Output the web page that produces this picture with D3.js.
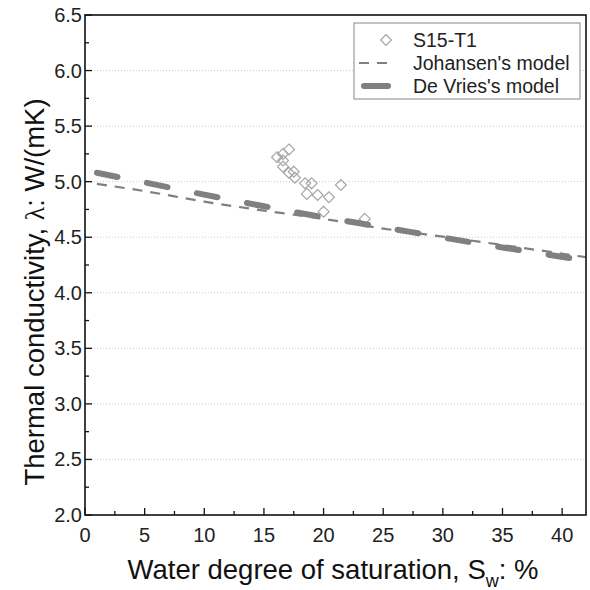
<!DOCTYPE html>
<html>
<head>
<meta charset="utf-8">
<script src="https://cdn.jsdelivr.net/npm/d3@7"></script>
<style>
  html, body { margin: 0; padding: 0; background: #fff; }
  svg { display: block; font-family: "Liberation Sans", Arial, sans-serif; }
</style>
</head>
<body>
<svg id="chart" width="590" height="590"></svg>
<script>
// ---- data ----
const measuredSw = [17.1, 16.6, 16.1, 16.6, 16.6, 17.1, 17.5, 17.6, 18.45, 19.0, 18.6, 19.5, 20.45, 21.45, 20.0, 23.45];
const measuredLambda = [5.29, 5.25, 5.22, 5.19, 5.135, 5.08, 5.09, 5.035, 4.985, 4.985, 4.89, 4.88, 4.86, 4.97, 4.73, 4.665];

const modelSw = [1, 5, 10, 15, 20, 25, 30, 35, 42];
const johansenLambda = [4.98, 4.915, 4.82, 4.74, 4.665, 4.578, 4.505, 4.43, 4.32];
const deVriesLambda = [5.08, 4.993, 4.883, 4.779, 4.68, 4.59, 4.497, 4.408, 4.29];

const xMajorTicks = [0, 5, 10, 15, 20, 25, 30, 35, 40];
const xMinorTicks = [2.5, 7.5, 12.5, 17.5, 22.5, 27.5, 32.5, 37.5];
const yMajorTicks = [2.0, 2.5, 3.0, 3.5, 4.0, 4.5, 5.0, 5.5, 6.0, 6.5];
const yMinorTicks = [2.25, 2.75, 3.25, 3.75, 4.25, 4.75, 5.25, 5.75, 6.25];
const gridValues = [2.5, 3.0, 3.5, 4.0, 4.5, 5.0, 5.5, 6.0];

const seriesNames = ["S15-T1", "Johansen's model", "De Vries's model"];

// ---- layout ----
const L = 85, R = 586, T = 15, B = 515;
const svg = d3.select("#chart");
const x = d3.scaleLinear().domain([0, 42]).range([L, R]);
const y = d3.scaleLinear().domain([2.0, 6.5]).range([B, T]);

const lineColor = "#808080";
const markerColor = "#a6a6a6";

// grid
svg.append("g").selectAll("line").data(gridValues).join("line")
  .attr("x1", L).attr("x2", R)
  .attr("y1", d => y(d)).attr("y2", d => y(d))
  .attr("stroke", "#c8c8c8").attr("stroke-width", 1)
  .attr("stroke-dasharray", "1,2");

// clip
svg.append("clipPath").attr("id", "clip").append("rect")
  .attr("x", L).attr("y", T).attr("width", R - L).attr("height", B - T);

const plot = svg.append("g").attr("clip-path", "url(#clip)");

// diamonds
const diamond = d3.symbol().type(d3.symbolDiamond2).size(76);
plot.append("g").selectAll("path").data(measuredSw.map((s, i) => [s, measuredLambda[i]])).join("path")
  .attr("d", diamond)
  .attr("transform", d => `translate(${x(d[0])},${y(d[1])})`)
  .attr("fill", "none").attr("stroke", markerColor).attr("stroke-width", 1.2);

// lines
const line = d3.line().x(d => x(d[0])).y(d => y(d[1])).curve(d3.curveMonotoneX);
plot.append("path")
  .datum(modelSw.map((s, i) => [s, johansenLambda[i]]))
  .attr("d", line).attr("fill", "none")
  .attr("stroke", lineColor).attr("stroke-width", 2.2)
  .attr("stroke-dasharray", "10,8");
plot.append("path")
  .datum(modelSw.map((s, i) => [s, deVriesLambda[i]]))
  .attr("d", line).attr("fill", "none")
  .attr("stroke", lineColor).attr("stroke-width", 6)
  .attr("stroke-linecap", "round")
  .attr("stroke-dasharray", "21,30");

// frame
svg.append("rect").attr("x", L).attr("y", T).attr("width", R - L).attr("height", B - T)
  .attr("fill", "none").attr("stroke", "#111").attr("stroke-width", 1.6);

// x ticks (inward)
const xAxis = svg.append("g");
xAxis.selectAll("line.maj").data(xMajorTicks).join("line").attr("class", "maj")
  .attr("x1", d => x(d)).attr("x2", d => x(d)).attr("y1", B).attr("y2", B - 7)
  .attr("stroke", "#111").attr("stroke-width", 1.3);
xAxis.selectAll("line.min").data(xMinorTicks).join("line").attr("class", "min")
  .attr("x1", d => x(d)).attr("x2", d => x(d)).attr("y1", B).attr("y2", B - 4)
  .attr("stroke", "#111").attr("stroke-width", 1.3);
xAxis.selectAll("text").data(xMajorTicks).join("text")
  .attr("x", d => x(d)).attr("y", 542)
  .attr("text-anchor", "middle").attr("font-size", 20).attr("fill", "#222")
  .text(d => d);

// y ticks (inward)
const yAxis = svg.append("g");
yAxis.selectAll("line.maj").data(yMajorTicks).join("line").attr("class", "maj")
  .attr("x1", L).attr("x2", L + 7).attr("y1", d => y(d)).attr("y2", d => y(d))
  .attr("stroke", "#111").attr("stroke-width", 1.3);
yAxis.selectAll("line.min").data(yMinorTicks).join("line").attr("class", "min")
  .attr("x1", L).attr("x2", L + 4).attr("y1", d => y(d)).attr("y2", d => y(d))
  .attr("stroke", "#111").attr("stroke-width", 1.3);
yAxis.selectAll("text").data(yMajorTicks).join("text")
  .attr("x", L - 3).attr("y", d => y(d) + 7)
  .attr("text-anchor", "end").attr("font-size", 20).attr("fill", "#222")
  .text(d => d3.format(".1f")(d));

// axis titles
const xt = svg.append("text").attr("x", 333).attr("y", 579)
  .attr("text-anchor", "middle").attr("font-size", 27.5).attr("fill", "#111");
xt.append("tspan").text("Water degree of saturation, S");
xt.append("tspan").attr("font-size", 18).attr("dy", 8).text("w");
xt.append("tspan").attr("dy", -8).text(": %");

const yt = svg.append("text")
  .attr("transform", "translate(44,292) rotate(-90)")
  .attr("text-anchor", "middle").attr("font-size", 27.5).attr("fill", "#111");
yt.append("tspan").text("Thermal conductivity, ");
yt.append("tspan").attr("font-family", "Liberation Serif, serif").text("λ");
yt.append("tspan").text(": W/(mK)");

// legend
const lg = svg.append("g");
lg.append("rect").attr("x", 354).attr("y", 23).attr("width", 226).attr("height", 76)
  .attr("fill", "#fff").attr("stroke", "#9a9a9a").attr("stroke-width", 1.2);
const rowY = [40, 63, 86];
lg.append("path").attr("d", diamond).attr("transform", `translate(386,${rowY[0]})`)
  .attr("fill", "none").attr("stroke", markerColor).attr("stroke-width", 1.2);
lg.append("line").attr("x1", 359).attr("x2", 394).attr("y1", rowY[1]).attr("y2", rowY[1])
  .attr("stroke", lineColor).attr("stroke-width", 2.2).attr("stroke-dasharray", "10,8");
lg.append("line").attr("x1", 364).attr("x2", 388).attr("y1", rowY[2]).attr("y2", rowY[2])
  .attr("stroke", lineColor).attr("stroke-width", 6).attr("stroke-linecap", "round");
lg.selectAll("text").data(seriesNames).join("text")
  .attr("x", 413).attr("y", (d, i) => rowY[i] + 7)
  .attr("font-size", 19.5).attr("fill", "#222").text(d => d);
</script>
</body>
</html>
